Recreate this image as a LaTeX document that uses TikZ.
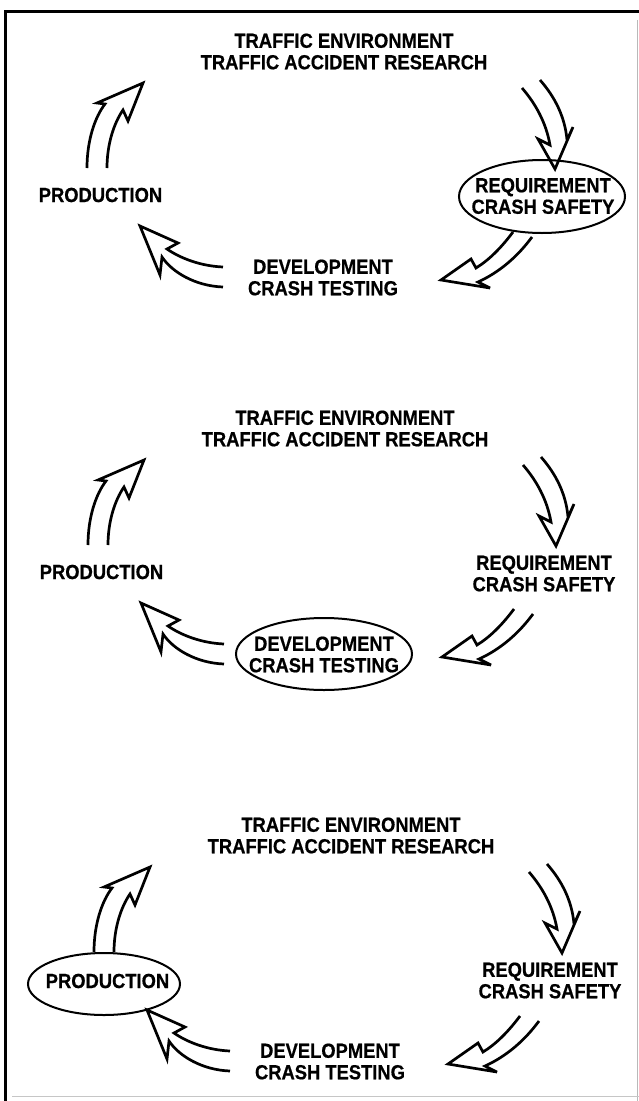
\documentclass[tikz,border=0pt]{standalone}
\usepackage{fontspec}
\setmainfont{Liberation Sans}
\newfontfamily\labelfont{Liberation Sans Bold}[FakeStretch=0.9, FakeBold=0.6]
\begin{document}
\begin{tikzpicture}[x=1pt,y=-1pt]
\tikzset{
  txt/.style={font=\labelfont\fontsize{20.4}{21.5}\selectfont, align=center, inner sep=0pt},
  hollow/.style={line width=2.7pt, line join=miter, miter limit=6},
  ring/.style={line width=2pt},
  % upward arrow from PRODUCTION towards the traffic research
  arrowup/.pic={
    \draw[hollow] (87,168) .. controls (87,140) and (95,117) .. (105,104)
      -- (97,103) -- (143,83) -- (128,121) -- (123,110)
      .. controls (114,123) and (107,144) .. (107,168);
  },
  % downward arrow into the requirement stage
  arrowdown/.pic={
    \draw[hollow] (522,88) .. controls (535,103) and (546,122) .. (550,145)
      -- (538,139) -- (555,169) -- (573,127) -- (567,140)
      .. controls (565,117) and (555,97) .. (540,80);
  },
  % arrow from requirement down to development
  arrowlow/.pic={
    \draw[hollow] (513,232) .. controls (501,248) and (489,260) .. (476,268)
      -- (471,259) -- (441,280) -- (490,288) -- (478,282)
      .. controls (500,272) and (518,256) .. (532,237);
  },
  % arrow from development back to production
  arrowback/.pic={
    \draw[hollow] (223,267) .. controls (200,266) and (180,258) .. (167,249)
      -- (178,243) -- (140,226) -- (160,275) -- (162,257)
      .. controls (172,272) and (195,286) .. (223,287);
  }
}
\useasboundingbox (0,0) rectangle (639,1101);
\fill[white] (0,0) rectangle (639,1101);

% frame
\draw[line width=3.3pt] (5.7,1101) -- (5.7,11.2) -- (639,11.2);
\draw[gray!55, line width=0.8pt] (637.5,20) -- (637.5,1101);
\draw[gray!45, line width=0.8pt] (12,1096.5) -- (639,1096.5);

% first cycle: requirement highlighted
\begin{scope}
  \node[txt] (env1) at (344,51.5) {TRAFFIC ENVIRONMENT\\TRAFFIC ACCIDENT RESEARCH};
  \node[txt] (req1) at (543,196) {REQUIREMENT\\CRASH SAFETY};
  \node[txt] (dev1) at (323,277.5) {DEVELOPMENT\\CRASH TESTING};
  \node[txt] (prod1) at (100.5,195) {PRODUCTION};
  \draw[ring] (542,196.5) ellipse [x radius=83pt, y radius=36.5pt];
  \pic {arrowup}; \pic {arrowdown}; \pic {arrowlow}; \pic {arrowback};
\end{scope}

% second cycle: development highlighted
\begin{scope}[shift={(1,377)}]
  \node[txt] (env2) at (344,51.5) {TRAFFIC ENVIRONMENT\\TRAFFIC ACCIDENT RESEARCH};
  \node[txt] (req2) at (543,196.5) {REQUIREMENT\\CRASH SAFETY};
  \node[txt] (dev2) at (323,277.5) {DEVELOPMENT\\CRASH TESTING};
  \node[txt] (prod2) at (100.5,195) {PRODUCTION};
  \draw[ring] (323,277) ellipse [x radius=88pt, y radius=36pt];
  \pic {arrowup}; \pic {arrowdown}; \pic {arrowlow}; \pic {arrowback};
\end{scope}

% third cycle: production highlighted
\begin{scope}[shift={(7,784)}]
  \node[txt] (env3) at (344,51.5) {TRAFFIC ENVIRONMENT\\TRAFFIC ACCIDENT RESEARCH};
  \node[txt] (req3) at (543,196.5) {REQUIREMENT\\CRASH SAFETY};
  \node[txt] (dev3) at (323,277.5) {DEVELOPMENT\\CRASH TESTING};
  \node[txt] (prod3) at (100.5,197) {PRODUCTION};
  \draw[ring] (97,200) ellipse [x radius=76pt, y radius=31pt];
  \pic {arrowup}; \pic {arrowdown}; \pic {arrowlow}; \pic {arrowback};
\end{scope}
\end{tikzpicture}
\end{document}
